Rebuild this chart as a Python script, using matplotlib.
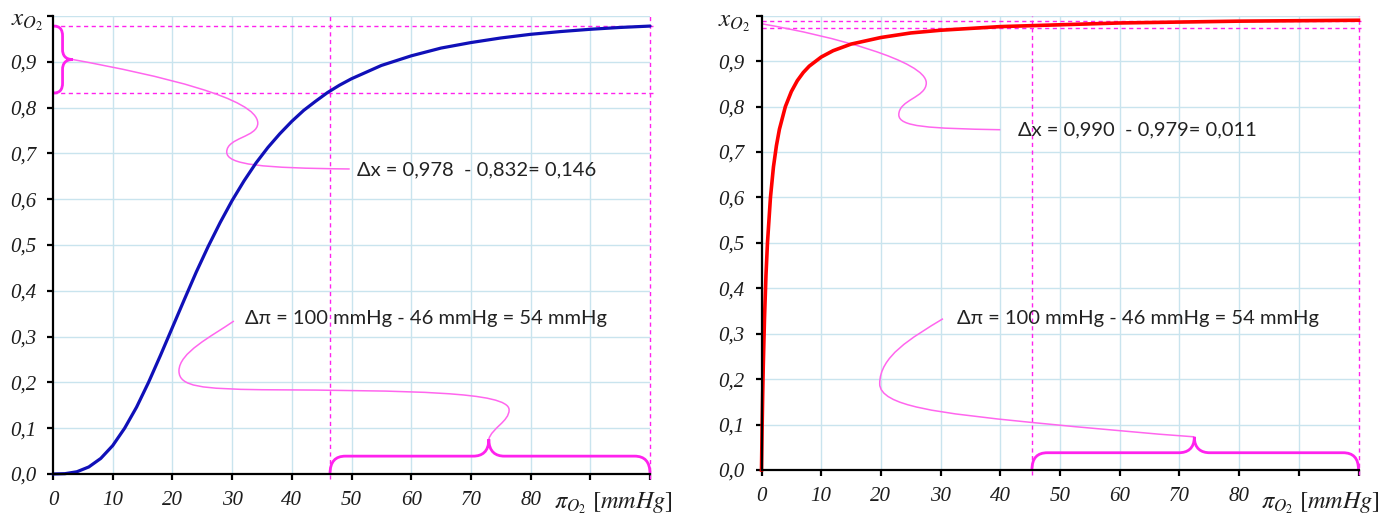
import matplotlib
matplotlib.use('Agg')
import matplotlib.pyplot as plt
from matplotlib.path import Path
from matplotlib.patches import PathPatch

plt.rcParams['mathtext.fontset'] = 'stix'

# ---------------- data ----------------
p_hb = [0, 2, 4, 6, 8, 10, 12, 14, 16, 18, 20, 22, 24, 26, 28, 30, 32, 34, 36, 38,
        40, 42, 44, 46, 48, 50, 55, 60, 65, 70, 75, 80, 85, 90, 95, 100]
x_hb = [0.0, 0.0007, 0.0049, 0.0154, 0.034, 0.062, 0.100, 0.146, 0.200, 0.259,
        0.320, 0.381, 0.441, 0.497, 0.549, 0.597, 0.640, 0.679, 0.713, 0.743,
        0.770, 0.794, 0.814, 0.833, 0.849, 0.863, 0.892, 0.913, 0.930, 0.942,
        0.952, 0.960, 0.966, 0.971, 0.975, 0.978]

p_mb = [0, 0.1, 0.2, 0.3, 0.5, 0.75, 1, 1.5, 2, 2.5, 3, 4, 5, 6, 7, 8, 10, 12, 15,
        20, 25, 30, 40, 50, 60, 70, 80, 90, 100]
x_mb = [0.0, 0.091, 0.167, 0.231, 0.333, 0.429, 0.500, 0.600, 0.667, 0.714, 0.750,
        0.800, 0.833, 0.857, 0.875, 0.889, 0.909, 0.923, 0.9375, 0.952, 0.962,
        0.968, 0.976, 0.980, 0.984, 0.986, 0.988, 0.989, 0.990]

x_ticks = [0, 10, 20, 30, 40, 50, 60, 70, 80, 90, 100]
x_tick_labels = ['0', '10', '20', '30', '40', '50', '60', '70', '80', '', '']
y_ticks = [0.0, 0.1, 0.2, 0.3, 0.4, 0.5, 0.6, 0.7, 0.8, 0.9, 1.0]
y_tick_labels = ['0,0', '0,1', '0,2', '0,3', '0,4', '0,5', '0,6', '0,7', '0,8', '0,9', '']

hb_levels = [0.832, 0.978]
hb_pressures = [46.4, 100]
mb_levels = [0.974, 0.988]
mb_pressures = [45.3, 100]

left_dx_text = 'Δx = 0,978  - 0,832= 0,146'
right_dx_text = 'Δx = 0,990  - 0,979= 0,011'
dpi_text = 'Δπ = 100 mmHg - 46 mmHg = 54 mmHg'
y_label = r'$x_{O_2}$'
x_label = r'$\pi_{O_2}\,\,[mmHg]$'

# ---------------- styling ----------------
GRID = '#c9e4ee'
MAG = '#ff22ee'
MAG_LINE = '#ff66ee'
TICKFONT = dict(family='Liberation Serif', style='italic', size=15)
ANN_FONT = ['Lato', 'DejaVu Sans']

fig = plt.figure(figsize=(13.94, 5.15), dpi=100)
axL = fig.add_axes([53 / 1394, 41 / 515, 597 / 1394, 458 / 515])
axR = fig.add_axes([761.5 / 1394, 45 / 515, 597 / 1394, 454.3 / 515])


def style(ax, ylab_pos, xlab_pos):
    ax.set_xlim(0, 100)
    ax.set_ylim(0, 1.0)
    for s in ('top', 'right'):
        ax.spines[s].set_visible(False)
    for s in ('left', 'bottom'):
        ax.spines[s].set_linewidth(1.6)
        ax.spines[s].set_color('black')
        ax.spines[s].set_zorder(5)
    ax.set_xticks(x_ticks)
    ax.set_xticklabels(x_tick_labels, **TICKFONT)
    ax.set_yticks(y_ticks)
    ax.set_yticklabels(y_tick_labels, **TICKFONT)
    ax.tick_params(direction='out', length=4, width=1.6, pad=8, colors='black',
                   labelcolor='#1e1e1e')
    for t in x_ticks[1:-1]:
        ax.axvline(t, color=GRID, lw=1.0, zorder=0)
    for t in y_ticks[1:]:
        ax.axhline(t, color=GRID, lw=1.0, zorder=0)
    ax.text(ylab_pos[0], ylab_pos[1], y_label, transform=ax.transAxes,
            ha='center', va='center', fontsize=18, color='#1e1e1e')
    ax.text(xlab_pos[0], xlab_pos[1], x_label, transform=ax.transAxes,
            ha='center', va='center', fontsize=17.5, color='#1e1e1e', clip_on=False)


def dashed(ax, levels, pressures):
    for lv in levels:
        ax.plot([0, 100.5], [lv, lv], color=MAG, lw=1.0, ls=(0, (3, 2.5)),
                clip_on=False, zorder=2)
    for pr in pressures:
        ax.plot([pr, pr], [-0.012, 1.0], color=MAG, lw=1.0, ls=(0, (3, 2.5)),
                clip_on=False, zorder=2)


def bezier(ax, pts, color=MAG_LINE, lw=1.1):
    codes = [Path.MOVETO] + [Path.CURVE4] * (len(pts) - 1)
    ax.add_patch(PathPatch(Path(pts, codes), fc='none', ec=color, lw=lw,
                           zorder=3, clip_on=False))


def hbrace(ax, xa, xb, y0, y1, xtip, ytip, r):
    M, C, L = Path.MOVETO, Path.CURVE4, Path.LINETO
    h = ytip - y1
    verts = [(xa, y0),
             (xa, y0 + 0.7 * (y1 - y0)), (xa + 0.35 * r, y1), (xa + r, y1),
             (xtip - r, y1),
             (xtip - 0.45 * r, y1), (xtip, y1 + 0.25 * h), (xtip, ytip),
             (xtip, y1 + 0.25 * h), (xtip + 0.45 * r, y1), (xtip + r, y1),
             (xb - r, y1),
             (xb - 0.35 * r, y1), (xb, y0 + 0.7 * (y1 - y0)), (xb, y0)]
    codes = [M, C, C, C, L, C, C, C, C, C, C, L, C, C, C]
    ax.add_patch(PathPatch(Path(verts, codes), fc='none', ec=MAG, lw=2.0,
                           zorder=4, clip_on=False))


def vbrace(ax, ya, yb, x0, x1, ytip, xtip, r):
    M, C, L = Path.MOVETO, Path.CURVE4, Path.LINETO
    w = xtip - x1
    verts = [(x0, ya),
             (x0 + 0.7 * (x1 - x0), ya), (x1, ya - 0.35 * r), (x1, ya - r),
             (x1, ytip + r),
             (x1, ytip + 0.45 * r), (x1 + 0.25 * w, ytip), (xtip, ytip),
             (x1 + 0.25 * w, ytip), (x1, ytip - 0.45 * r), (x1, ytip - r),
             (x1, yb + r),
             (x1, yb + 0.35 * r), (x0 + 0.7 * (x1 - x0), yb), (x0, yb)]
    codes = [M, C, C, C, L, C, C, C, C, C, C, L, C, C, C]
    ax.add_patch(PathPatch(Path(verts, codes), fc='none', ec=MAG, lw=2.0,
                           zorder=4, clip_on=False))


# ---------------- left: hemoglobin ----------------
style(axL, (-0.044, 0.988), (0.938, -0.064))
dashed(axL, hb_levels, hb_pressures)
axL.plot(p_hb, x_hb, color='#1010b8', lw=2.3, zorder=4, clip_on=False,
         solid_capstyle='round')
vbrace(axL, hb_levels[1], hb_levels[0], 0.15, 1.6, 0.905, 3.3, 0.022)
hbrace(axL, hb_pressures[0], hb_pressures[1], 0.0, 0.039, 73.0, 0.076, 2.6)
bezier(axL, [(3.3, 0.905), (18, 0.87), (34.3, 0.82), (34.3, 0.766),
             (34.3, 0.735), (29.1, 0.735), (29.1, 0.703),
             (29.1, 0.675), (35, 0.668), (49.7, 0.666)])
bezier(axL, [(30.3, 0.334), (26.5, 0.30), (21.1, 0.265), (21.1, 0.225),
             (21.1, 0.19), (25, 0.186), (35, 0.184),
             (60, 0.182), (76.4, 0.18), (76.4, 0.14),
             (76.4, 0.115), (73.5, 0.10), (73.0, 0.076)])
axL.text(50.9, 0.664, left_dx_text, family=ANN_FONT, fontsize=14.5,
         color='#222222', ha='left', va='center', zorder=6)
axL.text(32.2, 0.340, dpi_text, family=ANN_FONT, fontsize=14.5,
         color='#222222', ha='left', va='center', zorder=6)

# ---------------- right: myoglobin ----------------
style(axR, (-0.046, 0.986), (0.937, -0.072))
dashed(axR, mb_levels, mb_pressures)
axR.plot(p_mb, x_mb, color='#ff0000', lw=2.6, zorder=4, clip_on=False)
hbrace(axR, mb_pressures[0], mb_pressures[1], 0.0, 0.038, 72.5, 0.073, 2.6)
bezier(axR, [(0.1, 0.982), (12, 0.955), (27.6, 0.90), (27.6, 0.852),
             (27.6, 0.82), (23, 0.815), (23, 0.782),
             (23, 0.755), (28, 0.752), (40, 0.749)])
bezier(axR, [(30.4, 0.333), (25, 0.29), (19.8, 0.25), (19.8, 0.19),
             (19.8, 0.14), (30, 0.125), (45, 0.105),
             (55, 0.092), (65, 0.08), (72.5, 0.073)])
axR.text(43.0, 0.748, right_dx_text, family=ANN_FONT, fontsize=14.5,
         color='#222222', ha='left', va='center', zorder=6)
axR.text(32.7, 0.333, dpi_text, family=ANN_FONT, fontsize=14.5,
         color='#222222', ha='left', va='center', zorder=6)

fig.savefig('out.png', dpi=100)
